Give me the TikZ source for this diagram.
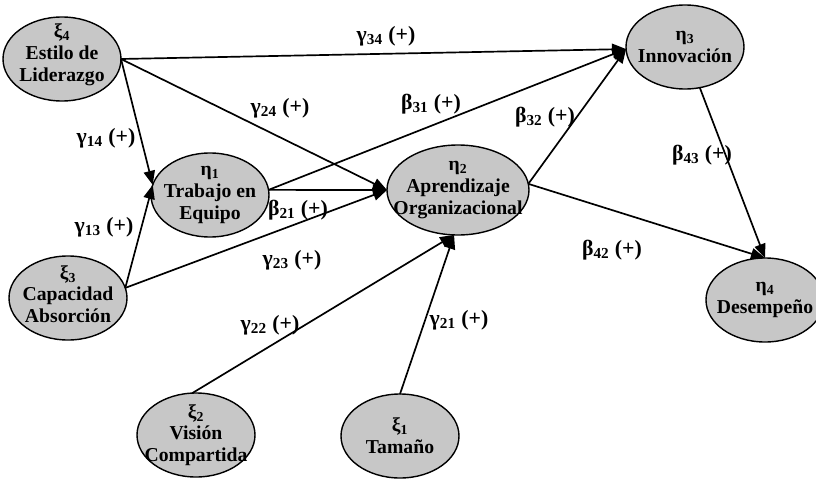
\documentclass[tikz,border=0pt]{standalone}
\usepackage{fontspec}
\setmainfont{Liberation Serif}
\usepackage{tikz}
\usetikzlibrary{arrows.meta}
\usetikzlibrary{shapes.geometric}

\begin{document}
\begin{tikzpicture}[
	v/.style = {ellipse, draw=black, fill=black!22, line width=1pt, inner sep=0pt, outer sep=0pt, minimum width=2.95cm, minimum height=2.1cm},
	t/.style = {align=center, inner sep=0pt, font=\bfseries\fontsize{14}{15.5}\selectfont},
	c/.style = {inner sep=1pt, font=\bfseries\fontsize{15.5}{17}\selectfont},
	r/.style = {-{Triangle[length=10pt, width=8pt]}, line width=1.2pt}
	]
	\useasboundingbox	(0, 0)	rectangle	(20.4, 12.025);
	\clip				(0, 0)	rectangle	(20.4, 12.025);
	
	
	% === === Nodes === ===
	\node[v]	(xi4)	at	(1.55, 10.55)	{};
	\node[v]	(xi3)	at	(1.7, 4.575)	{};
	\node[v]	(xi2)	at	(4.9, 1.15)		{};
	\node[v]	(xi1)	at	(10.0, 1.125)	{};
	
	\node[v]	(eta1)	at	(5.25, 7.15)	{};
	\node[v, minimum width=3.55cm, minimum height=2.25cm]	(eta2)	at	(11.45, 7.275)	{};
	\node[v]	(eta3)	at	(17.125, 10.85)	{};
	\node[v]	(eta4)	at	(19.125, 4.525)	{};
	
	\node[t]	(txi4)	at	([yshift=1mm]xi4)	{ξ\textsubscript{4}\\Estilo de\\Liderazgo};
	\node[t]	(txi3)	at	([yshift=1mm]xi3)	{ξ\textsubscript{3}\\Capacidad\\Absorción};
	\node[t]	(txi2)	at	(xi2)			{ξ\textsubscript{2}\\Visión\\Compartida};
	\node[t]	(txi1)	at	(xi1)			{ξ\textsubscript{1}\\Tamaño};
	
	\node[t]	(teta1)	at	(eta1)			{η\textsubscript{1}\\Trabajo en\\Equipo};
	\node[t]	(teta2)	at	(eta2)			{η\textsubscript{2}\\Aprendizaje\\Organizacional};
	\node[t]	(teta3)	at	(eta3)			{η\textsubscript{3}\\Innovación};
	\node[t]	(teta4)	at	(eta4)			{η\textsubscript{4}\\Desempeño};
	
	
	% === === Lines === ===
	\draw[r]	(xi4.east)	to	(eta3.182);
	\draw[r]	(xi4.east)	to	(eta2.west);
	\draw[r]	(xi4.east)	to	(eta1.170);
	
	\draw[r]	(xi3.10)	to	(eta1.170);
	\draw[r]	(xi3.10)	to	(eta2.west);
	
	\draw[r]	(eta1.5)	to	(eta2.west);
	\draw[r]	(eta1.5)	to	(eta3.182);
	
	\draw[r]	(eta2.5)	to	(eta3.182);
	\draw[r]	(eta2.5)	to	(eta4.north);
	\draw[r]	(eta3.290)	to	(eta4.north);
	
	\draw[r]	(xi2.95)	to	(eta2.265);
	\draw[r]	(xi1.north)	to	(eta2.265);
	
	
	% === === Labels === ===
	\node[c]	(g34)	at	(9.65, 11.125)	{γ\textsubscript{34} (+)};
	\node[c]	(g24)	at	(7.0, 9.325)	{γ\textsubscript{24} (+)};
	\node[c]	(g14)	at	(2.65, 8.575)	{γ\textsubscript{14} (+)};
	\node[c]	(g13)	at	(2.6, 6.35)		{γ\textsubscript{13} (+)};
	\node[c]	(g23)	at	(7.3, 5.525)	{γ\textsubscript{23} (+)};
	\node[c]	(b21)	at	(7.45, 6.775)	{β\textsubscript{21} (+)};
	\node[c]	(b31)	at	(10.775, 9.425)	{β\textsubscript{31} (+)};
	\node[c]	(b32)	at	(13.625, 9.1)	{β\textsubscript{32} (+)};
	\node[c]	(b43)	at	(17.55, 8.15)	{β\textsubscript{43} (+)};
	\node[c]	(b42)	at	(15.3, 5.775)	{β\textsubscript{42} (+)};
	\node[c]	(g22)	at	(6.75, 3.9)		{γ\textsubscript{22} (+)};
	\node[c]	(g21)	at	(11.475, 4.025)	{γ\textsubscript{21} (+)};
	
	
\end{tikzpicture}
\end{document}
